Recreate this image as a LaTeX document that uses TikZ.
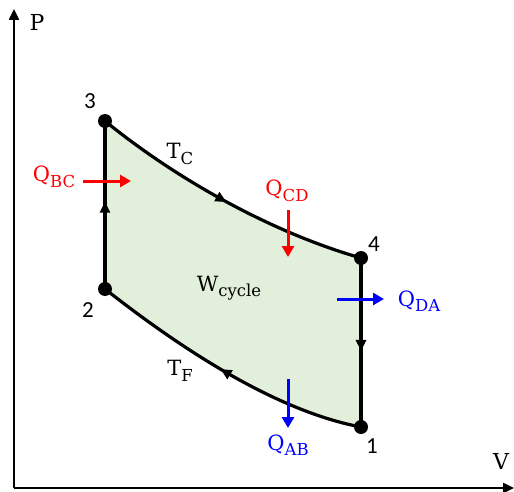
\documentclass[tikz,border=0pt]{standalone}
\usepackage{fontspec}
\setmainfont{DejaVu Serif}
\newfontfamily\numfont{Carlito}
\usetikzlibrary{arrows.meta,decorations.markings}
\definecolor{cyclefill}{HTML}{E2EFDA}
\newcommand{\sbs}[1]{\raisebox{-5.5pt}{\fontsize{16.5}{16.5}\selectfont #1}}
\tikzset{
  dot/.style={circle,fill=black,inner sep=0pt,minimum size=14pt},
  numlbl/.style={inner sep=0pt,font=\numfont\fontsize{23}{23}\selectfont},
  txtlbl/.style={inner sep=0pt,font=\fontsize{21}{21}\selectfont},
  axis/.style={line width=2.4pt,-{Triangle[length=11pt,width=10pt]}},
  proc/.style={line width=3.2pt},
  midarrow/.style={postaction={decorate},decoration={markings,
     mark=at position #1 with {\arrow{Triangle[length=11pt,width=10pt]}}}},
  heat/.style={line width=3pt,-{Triangle[length=11pt,width=12pt]}},
}
\begin{document}
\begin{tikzpicture}[x=1pt,y=-1pt]
\useasboundingbox (0,0) rectangle (514,492);
% axes
\coordinate (o) at (14,488);
\coordinate (ytip) at (14,9);
\coordinate (xtip) at (514,488);
\draw[axis] (o) -- (ytip);
\draw[axis] (o) -- (xtip);
\node[txtlbl,font=\fontsize{22}{22}\selectfont] (plbl) at (37,22) {P};
\node[txtlbl,font=\fontsize{22}{22}\selectfont] (vlbl) at (501,461) {V};
% state points
\coordinate (c3) at (105,121);
\coordinate (c2) at (105,289);
\coordinate (c4) at (361,258);
\coordinate (c1) at (361,427);
\fill[cyclefill] (c2) -- (c3) .. controls (175,178) and (270,232) .. (c4)
  -- (c1) .. controls (270,410) and (170,340) .. (c2) -- cycle;
\draw[proc,midarrow=0.52] (c2) -- (c3);
\draw[proc,midarrow=0.5] (c3) .. controls (175,178) and (270,232) .. (c4);
\draw[proc,midarrow=0.55] (c4) -- (c1);
\draw[proc,midarrow=0.52] (c1) .. controls (270,410) and (170,340) .. (c2);
\node[dot] (p3) at (c3) {};
\node[dot] (p2) at (c2) {};
\node[dot] (p4) at (c4) {};
\node[dot] (p1) at (c1) {};
\node[numlbl] (n3) at (90,101) {3};
\node[numlbl] (n2) at (88,310) {2};
\node[numlbl] (n4) at (374,244) {4};
\node[numlbl] (n1) at (372,446) {1};
% labels
\node[txtlbl] (tc) at (180,154) {T\sbs{C}};
\node[txtlbl] (tf) at (180,371) {T\sbs{F}};
\node[txtlbl] (w) at (229,288) {W\sbs{cycle}};
% heat arrows
\node[txtlbl,text=red] (qbc) at (54,177) {Q\sbs{BC}};
\coordinate (qbcs) at (83,181);
\coordinate (qbce) at (131,181);
\draw[heat,red] (qbcs) -- (qbce);
\node[txtlbl,text=red] (qcd) at (287,191) {Q\sbs{CD}};
\coordinate (qcds) at (288,210);
\coordinate (qcde) at (288,257);
\draw[heat,red] (qcds) -- (qcde);
\node[txtlbl,text=blue] (qda) at (419,301) {Q\sbs{DA}};
\coordinate (qdas) at (337,299);
\coordinate (qdae) at (384,299);
\draw[heat,blue] (qdas) -- (qdae);
\node[txtlbl,text=blue] (qab) at (288,445) {Q\sbs{AB}};
\coordinate (qabs) at (288,379);
\coordinate (qabe) at (288,428);
\draw[heat,blue] (qabs) -- (qabe);
\end{tikzpicture}
\end{document}
